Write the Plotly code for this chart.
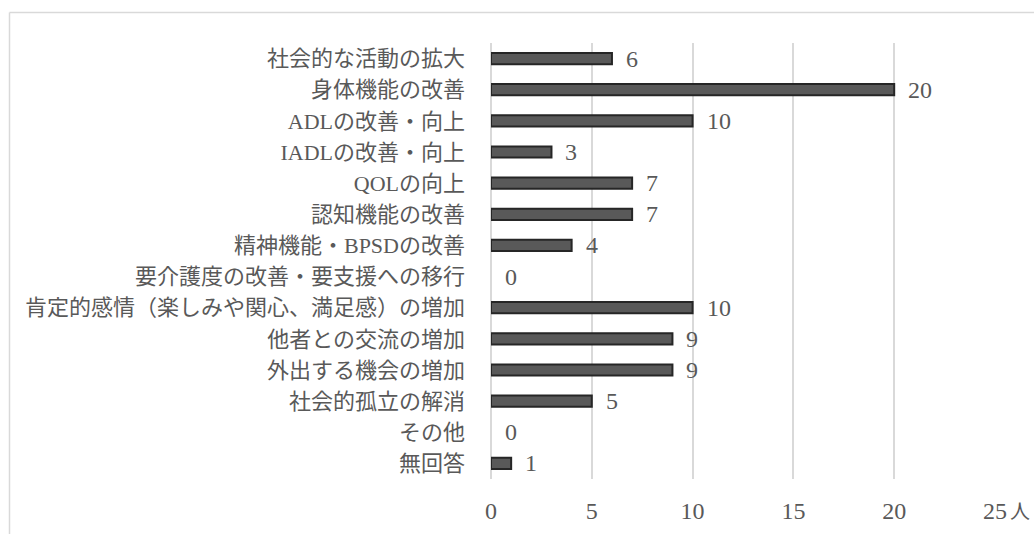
import plotly.graph_objects as go

categories = [
    "社会的な活動の拡大",
    "身体機能の改善",
    "ADLの改善・向上",
    "IADLの改善・向上",
    "QOLの向上",
    "認知機能の改善",
    "精神機能・BPSDの改善",
    "要介護度の改善・要支援への移行",
    "肯定的感情（楽しみや関心、満足感）の増加",
    "他者との交流の増加",
    "外出する機会の増加",
    "社会的孤立の解消",
    "その他",
    "無回答",
]
values = [6, 20, 10, 3, 7, 7, 4, 0, 10, 9, 9, 5, 0, 1]
x_ticks = [0, 5, 10, 15, 20, 25]
unit_label = "人"

W, H = 1034, 534
ML, MR, MT, MB = 491, 39, 43, 55
PW, PH = W - ML - MR, H - MT - MB

TEXT = "#595959"
GRID = "#d9d9d9"
FONT = "Liberation Serif, Noto Sans CJK JP, serif"

fig = go.Figure()
fig.add_trace(go.Bar(
    x=values, y=categories, orientation="h",
    width=0.36,
    marker=dict(color="#595959",
                line=dict(color="#262626", width=[2 if v > 0 else 0 for v in values])),
    hoverinfo="skip",
))

annotations = []
for c, v in zip(categories, values):
    annotations.append(dict(
        x=v, y=c, xref="x", yref="y", text=str(v), showarrow=False,
        xanchor="left", yanchor="middle", xshift=12,
        font=dict(family=FONT, size=24, color=TEXT),
    ))
annotations.append(dict(
    x=x_ticks[-1], y=-(512 - (H - MB)) / PH, xref="x", yref="paper",
    text=unit_label, showarrow=False, xanchor="left", yanchor="middle",
    xshift=13, font=dict(family=FONT, size=20, color=TEXT),
))

# outer chart-area border (extends past right and bottom edges)
bx = (9.5 - ML) / PW
by = ((H - MB) - 12.5) / PH
shapes = [
    dict(type="line", xref="paper", yref="paper", x0=bx, y0=by, x1=1.2, y1=by,
         line=dict(color=GRID, width=1.5)),
    dict(type="line", xref="paper", yref="paper", x0=bx, y0=by, x1=bx, y1=-0.3,
         line=dict(color=GRID, width=1.5)),
]

fig.update_layout(
    width=W, height=H,
    margin=dict(l=ML, r=MR, t=MT, b=MB, pad=0, autoexpand=False),
    paper_bgcolor="white", plot_bgcolor="white",
    showlegend=False,
    annotations=annotations,
    shapes=shapes,
    font=dict(family=FONT, color=TEXT),
    bargap=0.6,
)
fig.update_xaxes(
    range=[0, 25], tickvals=x_ticks, ticktext=[str(t) for t in x_ticks],
    showgrid=True, gridcolor=GRID, gridwidth=1.5,
    zeroline=True, zerolinecolor=GRID, zerolinewidth=1.5,
    showline=False, ticks="", ticklabelstandoff=15, automargin=False,
    tickfont=dict(family=FONT, size=24, color=TEXT),
    fixedrange=True,
)
fig.update_yaxes(
    categoryorder="array", categoryarray=categories, autorange="reversed",
    showgrid=False, zeroline=False, showline=False, ticks="",
    ticklabelstandoff=25, automargin=False,
    tickfont=dict(family=FONT, size=22, color=TEXT),
    fixedrange=True,
)

fig.write_html(
    "out.html",
    config={"displayModeBar": False},
    post_script="document.body.style.margin='0';document.body.style.overflow='hidden';",
)
